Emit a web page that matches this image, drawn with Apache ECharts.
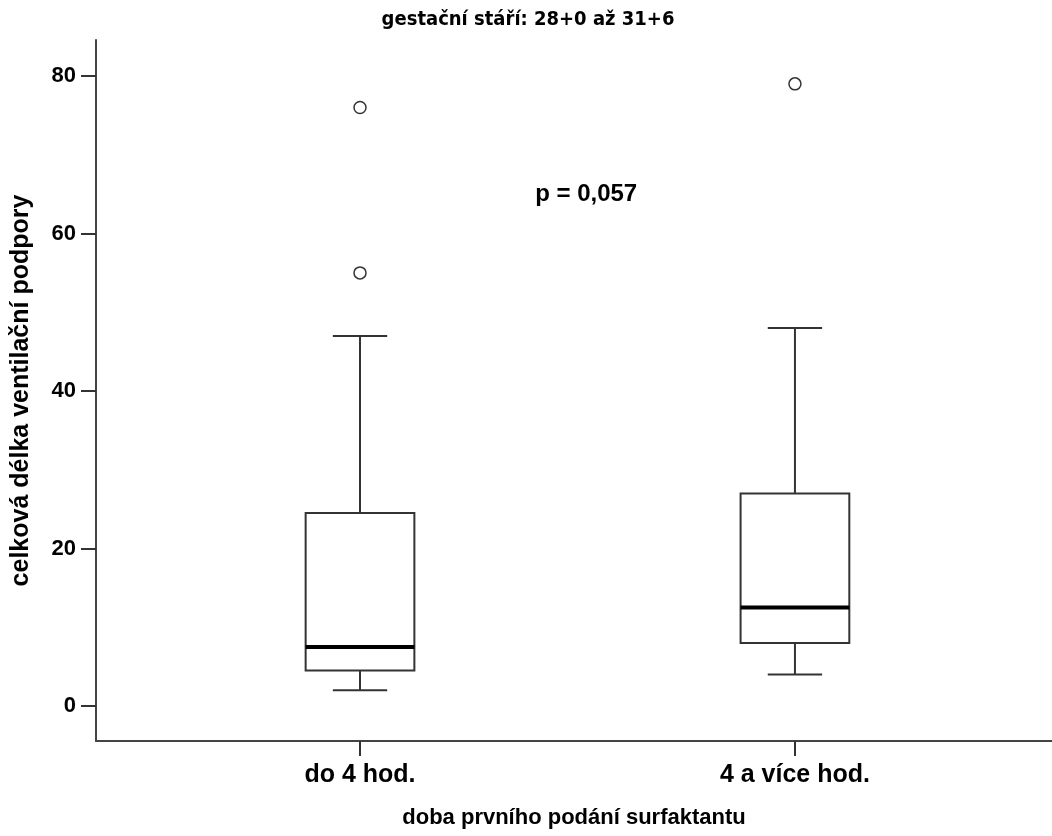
<!DOCTYPE html>
<html>
<head>
<meta charset="utf-8">
<script src="https://cdn.jsdelivr.net/npm/echarts@6/dist/echarts.min.js"></script>
<style>
html,body{margin:0;padding:0;background:#fff;}
#chart{width:1052px;height:836px;}
</style>
</head>
<body>
<div id="chart"></div>
<script>
// Data
const categories = ['do 4 hod.', '4 a více hod.'];
// [lowerWhisker, Q1, median, Q3, upperWhisker]
const boxStats = [
  [2, 4.5, 7.5, 24.5, 47],
  [4, 8, 12.5, 27, 48]
];
// outliers: [groupIndex, value]
const outliers = [
  [0, 55], [0, 76],
  [1, 79]
];
const yTicks = [0, 20, 40, 60, 80];
const titleText = 'gestační stáří: 28+0 až 31+6';
const annotation = 'p = 0,057';

const font = '"Liberation Sans", Arial, sans-serif';
const chart = echarts.init(document.getElementById('chart'), null, {renderer: 'canvas'});

const boxData = boxStats.map((s, i) => [i + 1].concat(s));
const outData = outliers.map(o => [o[0] + 1, o[1]]);

chart.setOption({
  animation: false,
  backgroundColor: '#fff',
  title: {
    text: titleText,
    left: 523, top: 5, textAlign: 'center',
    textStyle: {fontFamily: '"Liberation Sans Narrow", "DejaVu Sans Condensed", sans-serif', fontWeight: 'bold', fontSize: 20, color: '#000'}
  },
  grid: {left: 96, top: 40, right: 0, bottom: 95, containLabel: false},
  xAxis: {
    type: 'value', min: 0.393, max: 2.591,
    axisLine: {show: true, onZero: false, lineStyle: {color: '#444', width: 2}},
    axisTick: {show: true, length: 15, lineStyle: {color: '#333', width: 2}, customValues: [1, 2]},
    axisLabel: {show: true, customValues: [1, 2], formatter: v => categories[Math.round(v) - 1] || '', margin: 22,
      fontFamily: font, fontWeight: 'bold', fontSize: 25, color: '#000'},
    splitLine: {show: false},
    name: 'doba prvního podání surfaktantu', nameLocation: 'middle', nameGap: 66,
    nameTextStyle: {fontFamily: font, fontWeight: 'bold', fontSize: 22, color: '#000'}
  },
  yAxis: {
    type: 'value', min: -4.44, max: 84.57,
    axisLine: {show: true, onZero: false, lineStyle: {color: '#444', width: 2}},
    axisTick: {show: true, length: 15, lineStyle: {color: '#333', width: 2}, customValues: yTicks},
    axisLabel: {show: true, customValues: yTicks, margin: 20, fontFamily: font, fontWeight: 'bold', fontSize: 22, color: '#000'},
    splitLine: {show: false},
    name: 'celková délka ventilační podpory', nameLocation: 'middle', nameGap: 62,
    nameTextStyle: {fontFamily: font, fontWeight: 'bold', fontSize: 25, color: '#000'}
  },
  series: [
    {
      type: 'custom',
      data: boxData,
      renderItem: function (params, api) {
        const x = api.value(0);
        const lo = api.value(1), q1 = api.value(2), med = api.value(3), q3 = api.value(4), hi = api.value(5);
        const halfBox = 0.125, halfCap = 0.0625;
        const pL = api.coord([x - halfBox, q3]);
        const pR = api.coord([x + halfBox, q1]);
        const cL = api.coord([x - halfCap, lo]);
        const cR = api.coord([x + halfCap, hi]);
        const pc = api.coord([x, 0]);
        const yLo = api.coord([x, lo])[1], yQ1 = api.coord([x, q1])[1], yMed = api.coord([x, med])[1], yQ3 = api.coord([x, q3])[1], yHi = api.coord([x, hi])[1];
        const ls = {stroke: '#333', lineWidth: 2, fill: null};
        return {
          type: 'group',
          children: [
            {type: 'line', shape: {x1: pc[0], y1: yQ3, x2: pc[0], y2: yHi}, style: ls},
            {type: 'line', shape: {x1: pc[0], y1: yQ1, x2: pc[0], y2: yLo}, style: ls},
            {type: 'line', shape: {x1: cL[0], y1: yHi, x2: cR[0], y2: yHi}, style: ls},
            {type: 'line', shape: {x1: cL[0], y1: yLo, x2: cR[0], y2: yLo}, style: ls},
            {type: 'rect', shape: {x: pL[0], y: yQ3, width: pR[0] - pL[0], height: yQ1 - yQ3}, style: {stroke: '#333', lineWidth: 2, fill: '#fff'}},
            {type: 'line', shape: {x1: pL[0], y1: yMed, x2: pR[0], y2: yMed}, style: {stroke: '#000', lineWidth: 4}}
          ]
        };
      },
      z: 2
    },
    {
      type: 'scatter',
      data: outData,
      symbol: 'circle', symbolSize: 12,
      itemStyle: {color: '#fff', borderColor: '#000', borderWidth: 1.5},
      z: 3
    },
    {
      type: 'scatter',
      data: [[1.52, 65]],
      symbolSize: 1,
      itemStyle: {color: 'rgba(0,0,0,0)'},
      label: {show: true, formatter: annotation, position: 'inside', fontFamily: font, fontWeight: 'bold', fontSize: 24, color: '#000', textBorderWidth: 0, opacity: 1},
      silent: true, z: 4
    }
  ]
});
</script>
</body>
</html>
